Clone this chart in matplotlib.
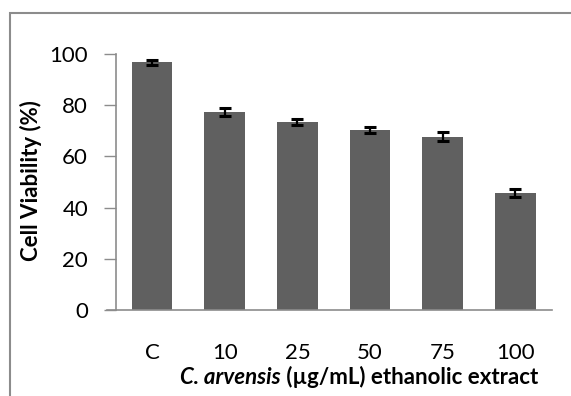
import numpy as np
import matplotlib.pyplot as plt
from matplotlib.patches import Rectangle

categories = ['C', '10', '25', '50', '75', '100']
viability = [96.8, 77.4, 73.4, 70.4, 67.7, 45.7]
errors = [1.0, 1.5, 1.1, 1.2, 1.7, 1.4]
yticks = [0, 20, 40, 60, 80, 100]

plt.rcParams['font.family'] = ['Lato', 'DejaVu Sans']

W, H = 571, 396
fig = plt.figure(figsize=(W / 100, H / 100), dpi=100)
ax = fig.add_axes([115.8 / W, 1 - 310 / H, (551.7 - 115.8) / W, (310 - 54) / H])

x = np.arange(len(categories))
ax.bar(x, viability, width=0.56, color='#606060', zorder=2)
ax.errorbar(x, viability, yerr=errors, fmt='none', ecolor='black',
            elinewidth=1.6, capsize=4.5, capthick=2.2, zorder=3)

ax.set_xlim(-0.5, len(categories) - 0.5)
ax.set_ylim(0, 100)
ax.set_yticks(yticks)
ax.set_xticks(x)
ax.set_xticklabels(categories)
ax.tick_params(axis='y', length=9, width=1, color='#8c8c8c', pad=11, labelsize=16)
ax.tick_params(axis='x', length=0, pad=24, labelsize=16)

for s in ['top', 'right']:
    ax.spines[s].set_visible(False)
for s in ['left', 'bottom']:
    ax.spines[s].set_color('#8c8c8c')
    ax.spines[s].set_linewidth(1.2)
ax.spines['bottom'].set_bounds(-0.5 - 9 / 72.6, len(categories) - 0.5)

fig.text(31 / W, 1 - 181 / H, 'Cell Viability (%)', rotation=90, fontsize=16,
         fontweight='bold', ha='center', va='center')

t1 = fig.text(180 / W, 1 - 378 / H, 'C. arvensis', fontsize=16, fontweight='bold',
              fontstyle='italic', ha='left', va='center')
ax.annotate(' (\u00b5g/mL) ethanolic extract', xy=(1, 0), xycoords=t1,
            fontsize=16, fontweight='bold', ha='left', va='bottom',
            annotation_clip=False)

fig.patches.append(Rectangle((10 / W, -0.1), 1.2, 1 - 12.7 / H + 0.1,
                             transform=fig.transFigure, fill=False,
                             edgecolor='#8c8c8c', linewidth=1.5))

fig.savefig('out.png', dpi=100)
